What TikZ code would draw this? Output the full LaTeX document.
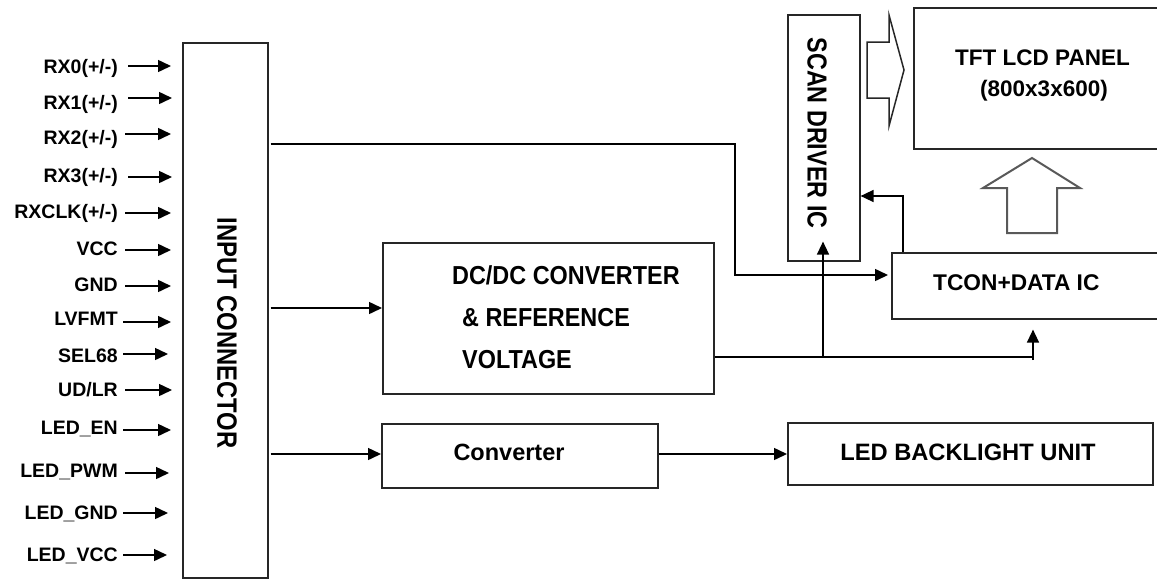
\documentclass[tikz,border=0pt]{standalone}
\usepackage{fontspec}
\setmainfont{Liberation Sans}
\newfontfamily\condfont[FakeStretch=0.85]{Liberation Sans}
\newfontfamily\midfont[FakeStretch=0.9]{Liberation Sans}
\usetikzlibrary{arrows.meta}
\begin{document}
\begin{tikzpicture}[x=1pt,y=-1pt,
  box/.style={draw=black!85, line width=1.6pt, inner sep=0pt, anchor=north west},
  lbl/.style={font=\fontsize{19.5}{22}\selectfont\bfseries, inner sep=0pt, anchor=east},
  wire/.style={draw=black, line width=1.5pt},
  arr/.style={wire, -{Triangle[length=13pt,width=12pt]}},
  txt/.style={inner sep=0pt, font=\fontsize{22.5}{26}\selectfont\bfseries},
  hollow/.style={draw=black!85, line width=1.5pt, fill=white, line join=miter}
]
\clip (0,0) rectangle (1157,579);
\fill[white] (0,0) rectangle (1157,579);

% boxes
\node[box, minimum width=85pt, minimum height=535pt] (conn) at (182,42) {};
\node[box, minimum width=72pt, minimum height=246pt] (scan) at (787,14) {};
\node[box, minimum width=270pt, minimum height=141pt] (tft) at (913,7) {};
\node[box, minimum width=290pt, minimum height=66pt] (tcon) at (891,252) {};
\node[box, minimum width=331pt, minimum height=151pt] (dcdc) at (382,242) {};
\node[box, minimum width=276pt, minimum height=64pt] (conv) at (381,423) {};
\node[box, minimum width=365pt, minimum height=62pt] (led) at (787,422) {};

% box texts
\node[inner sep=0pt, rotate=-90, font=\fontsize{28}{30}\condfont\bfseries] (conntxt) at (227,333) {INPUT CONNECTOR};
\node[inner sep=0pt, rotate=-90, font=\fontsize{27.5}{30}\condfont\bfseries] (scantxt) at (817,133) {SCAN DRIVER IC};
\node[txt, anchor=west] (tft1) at (955,58) {TFT LCD PANEL};
\node[txt, anchor=west] (tft2) at (980,91) {(800x3x600)};
\node[txt, anchor=west, font=\fontsize{22.7}{26}\selectfont\bfseries] (tcontxt) at (933,283) {TCON+DATA IC};
\node[inner sep=0pt, anchor=west, font=\fontsize{26}{30}\midfont\bfseries] (dc1) at (452,275) {DC/DC CONVERTER};
\node[inner sep=0pt, anchor=west, font=\fontsize{26}{30}\midfont\bfseries] (dc2) at (462,318) {\& REFERENCE};
\node[inner sep=0pt, anchor=west, font=\fontsize{26}{30}\midfont\bfseries] (dc3) at (462,360) {VOLTAGE};
\node[txt, font=\fontsize{23.5}{26}\selectfont\bfseries] (convtxt) at (509,452) {Converter};
\node[txt, font=\fontsize{23.7}{26}\selectfont\bfseries] (ledtxt) at (968,452) {LED BACKLIGHT UNIT};

% left labels and input arrows
\foreach \n/\t/\ty/\ay/\sx/\ex in {
  1/{RX0(+/-)}/68/66/128/171,
  2/{RX1(+/-)}/104/98/128/172,
  3/{RX2(+/-)}/139/134/125/171,
  4/{RX3(+/-)}/177/177/128/172,
  5/{RXCLK(+/-)}/213/213/125/171,
  6/{VCC}/249/250/125/171,
  7/{GND}/285/286/125/171,
  8/{LVFMT}/319/322/123/171,
  9/{SEL68}/356/354/123/168,
  10/{UD/LR}/390/390/125/172,
  11/{LED\_EN}/429/430/123/171,
  12/{LED\_PWM}/472/473/125/169,
  13/{LED\_GND}/514/513/123/168,
  14/{LED\_VCC}/556/555/123/167}{
  \node[lbl] (l\n) at (118,\ty) {\t};
  \coordinate (s\n) at (\sx,\ay);
  \coordinate (e\n) at (\ex,\ay);
  \draw[arr] (s\n) -- (e\n);
}

% helper coordinates
\coordinate (y144) at (0,144);
\coordinate (y275) at (0,275);
\coordinate (y308) at (0,308);
\coordinate (y454) at (0,454);
\coordinate (y357) at (0,357);
\coordinate (y196) at (0,196);
\coordinate (xv1) at (735,0);
\coordinate (xv2) at (823,0);
\coordinate (xv3) at (1033,0);
\coordinate (xv4) at (903,0);

% connections
\draw[arr, shorten >=3pt] ([xshift=2pt]conn.east |- y144) -- (xv1 |- y144) |- (tcon.west |- y275);
\draw[arr] ([xshift=2pt]conn.east |- y308) -- (dcdc.west |- y308);
\draw[arr] ([xshift=2pt]conn.east |- y454) -- (conv.west |- y454);
\draw[arr] (conv.east |- y454) -- (led.west |- y454);
\draw[wire] (dcdc.east |- y357) -- (xv3 |- y357);
\draw[arr] ([yshift=-3pt]xv3 |- y357) -- ([yshift=-10pt]xv3 |- tcon.south);
\draw[arr] (xv2 |- y357) -- ([yshift=20pt]xv2 |- scan.south);
\draw[arr] (xv4 |- tcon.north) -- (xv4 |- y196) -- (scan.east |- y196);

% hollow arrows
\draw[hollow] (867,42) -- (889,42) -- (889,15) -- (904,70) -- (889,126) -- (889,98) -- (867,98) -- cycle;
\draw[hollow, draw=black!65, line width=2pt] (1007,233) -- (1007,188) -- (983,188) -- (1032,158) -- (1080,188) -- (1057,188) -- (1057,233) -- cycle;
\end{tikzpicture}
\end{document}
